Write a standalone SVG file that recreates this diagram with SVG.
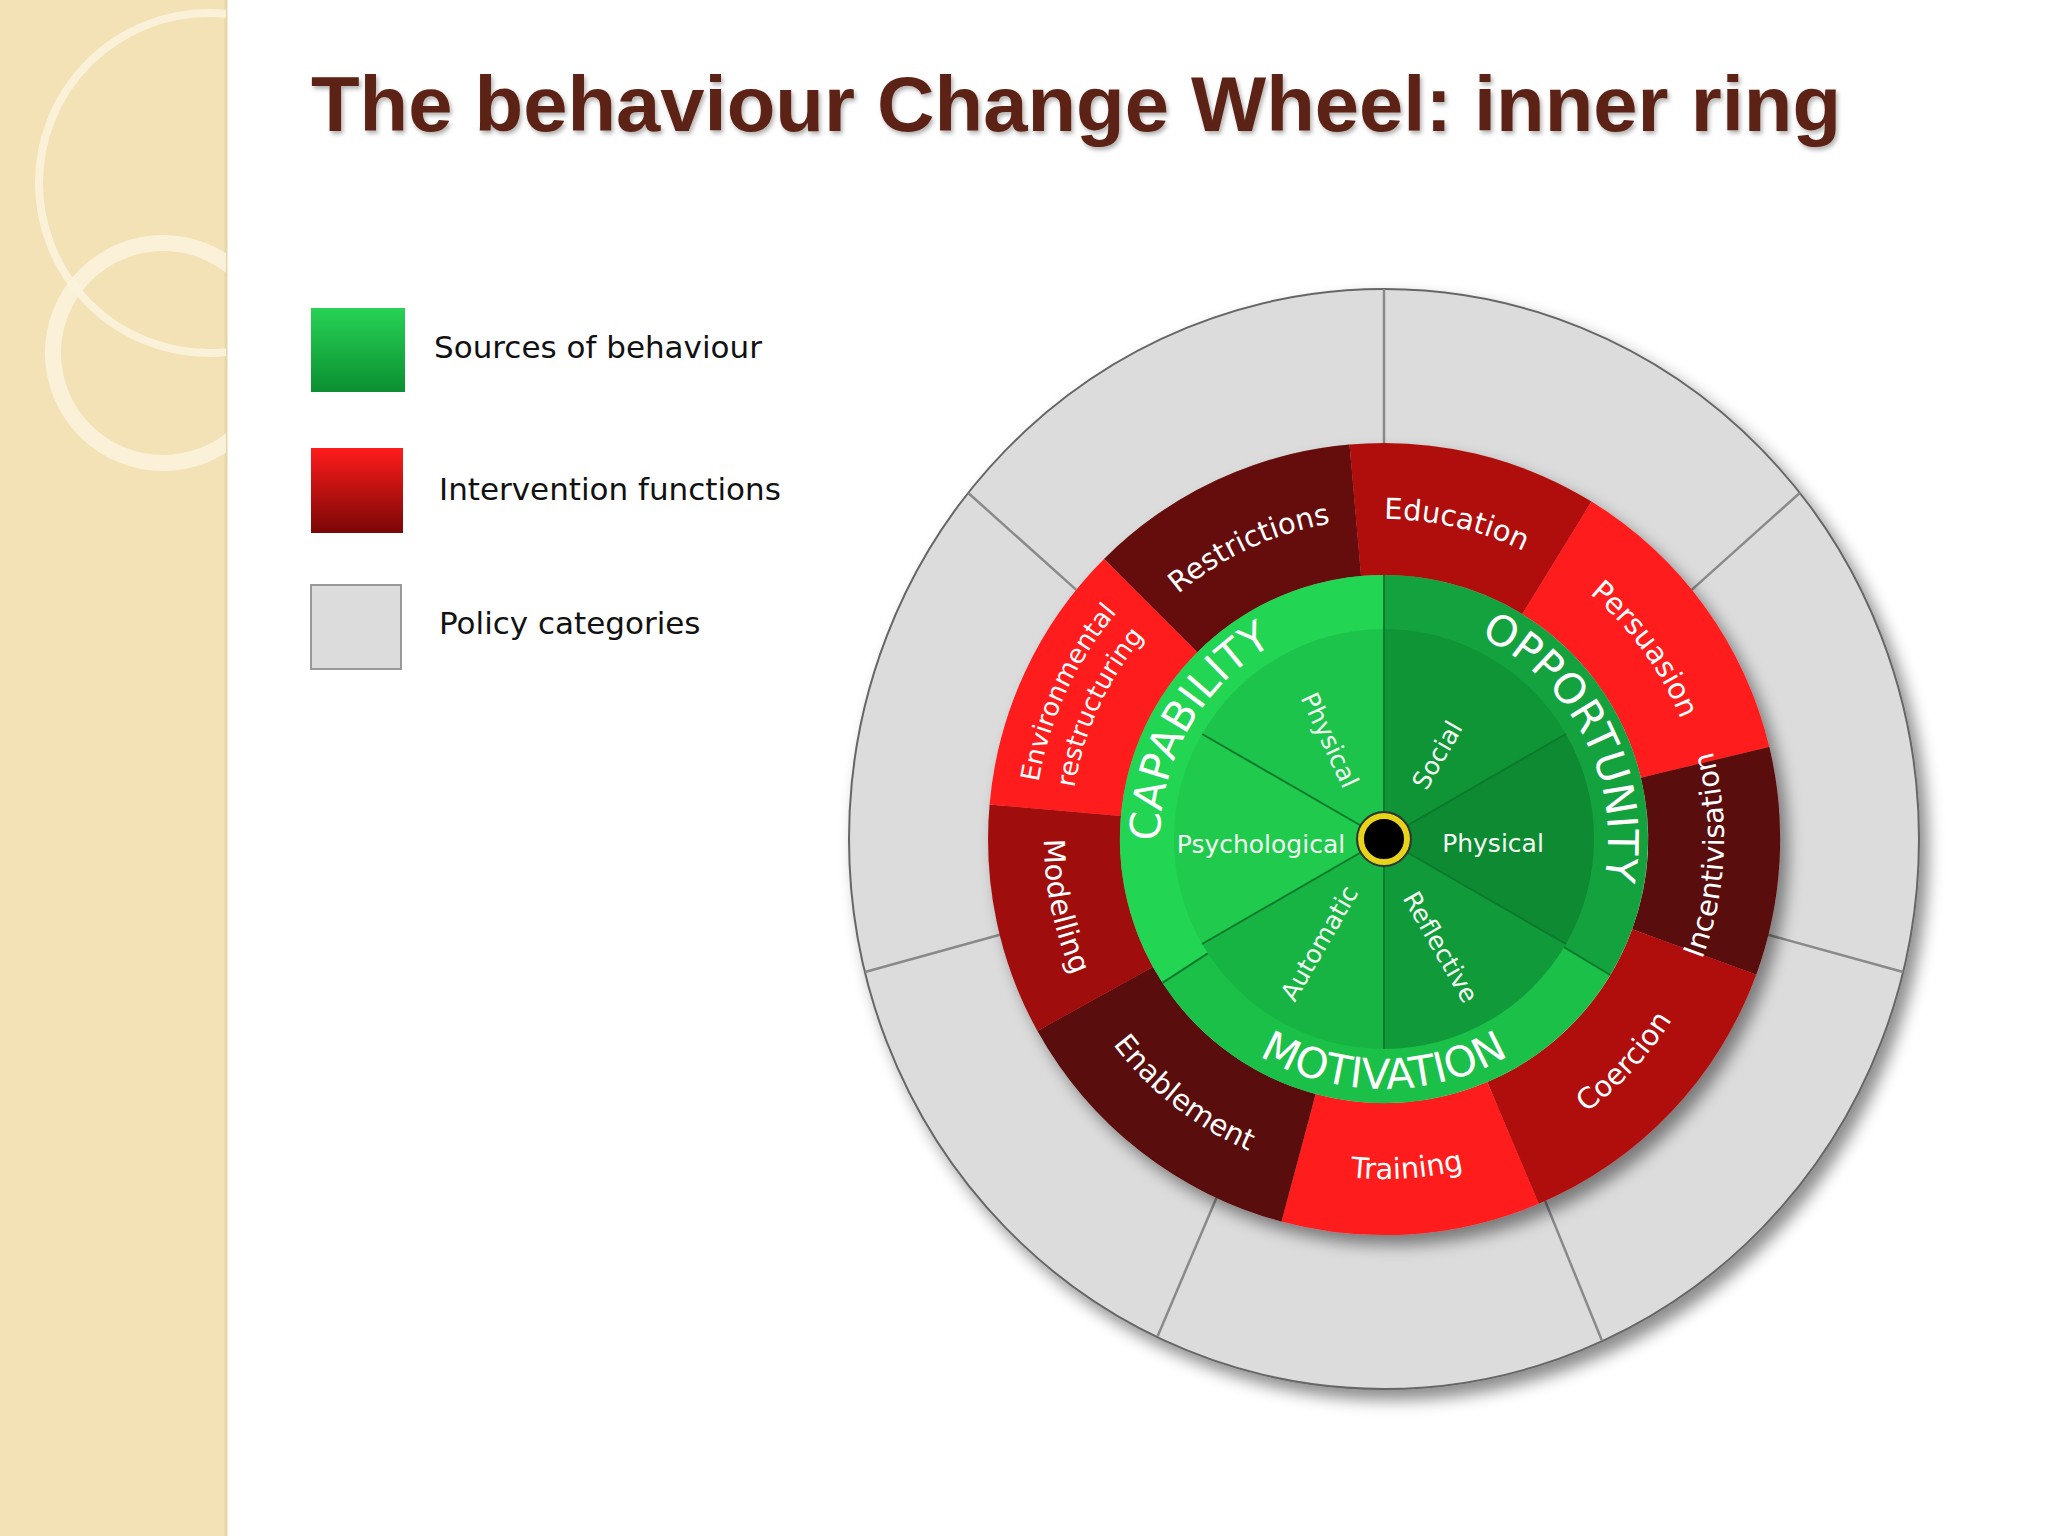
<svg xmlns="http://www.w3.org/2000/svg" width="2048" height="1536" viewBox="0 0 2048 1536">
<style>
.red{fill:#fff;font-family:"DejaVu Sans","Liberation Sans",sans-serif;font-size:29px}
.grn{fill:#fff;font-family:"DejaVu Sans","Liberation Sans",sans-serif;font-size:42px}
.sub{fill:#f2fff2;font-family:"DejaVu Sans","Liberation Sans",sans-serif;font-size:25px}
.leg{fill:#111;font-family:"DejaVu Sans","Liberation Sans",sans-serif;font-size:31px}
.div{stroke:#8a8a8a;stroke-width:2.5}
.gl{stroke:#0b7a2c;stroke-width:2}
</style>
<defs>
<filter id="sh" x="-20%" y="-20%" width="140%" height="140%"><feDropShadow dx="8" dy="10" stdDeviation="8" flood-color="#000" flood-opacity="0.45"/></filter>
<filter id="tsh"><feDropShadow dx="2" dy="3" stdDeviation="2" flood-color="#000" flood-opacity="0.3"/></filter>
<clipPath id="sb"><rect width="226" height="1536"/></clipPath>
<linearGradient id="lg" x1="0" y1="0" x2="0" y2="1"><stop offset="0" stop-color="#27d255"/><stop offset="1" stop-color="#0c8f32"/></linearGradient>
<linearGradient id="lr" x1="0" y1="0" x2="0" y2="1"><stop offset="0" stop-color="#ff1c1c"/><stop offset="1" stop-color="#7a0606"/></linearGradient>
<path id="cw320" d="M1384,519 A320,320 0 1 1 1384,1159 A320,320 0 1 1 1384,519"/>
<path id="cw350" d="M1384,489 A350,350 0 1 1 1384,1189 A350,350 0 1 1 1384,489"/>
<path id="cw314" d="M1384,525 A314,314 0 1 1 1384,1153 A314,314 0 1 1 1384,525"/>
<path id="ccw340" d="M1384,499 A340,340 0 1 0 1384,1179 A340,340 0 1 0 1384,499"/>
<path id="cw224" d="M1384,615 A224,224 0 1 1 1384,1063 A224,224 0 1 1 1384,615"/>
<path id="ccw250" d="M1384,589 A250,250 0 1 0 1384,1089 A250,250 0 1 0 1384,589"/>
</defs>
<rect width="2048" height="1536" fill="#fff"/>
<g id="sidebar">
<rect width="226" height="1536" fill="#f2e2b6"/>
<line x1="226" y1="0" x2="226" y2="1536" stroke="#e6d6a8" stroke-width="3"/>
<g clip-path="url(#sb)">
<circle cx="209" cy="183" r="170" fill="none" stroke="#fbf3dc" stroke-width="8" opacity="0.9"/>
<circle cx="163" cy="353" r="110" fill="none" stroke="#fbf3dc" stroke-width="16" opacity="0.9"/>
</g>
</g>
<text x="311" y="131" textLength="1530" lengthAdjust="spacingAndGlyphs" filter="url(#tsh)" style="font-family:'Liberation Sans',Arial,sans-serif;font-weight:bold;font-size:78px;fill:#5c2314">The behaviour Change Wheel: inner ring</text>
<g id="legend">
<rect x="311" y="308" width="94" height="84" fill="url(#lg)"/>
<text class="leg" x="434" y="358">Sources of behaviour</text>
<rect x="311" y="448" width="92" height="85" fill="url(#lr)"/>
<text class="leg" x="439" y="500">Intervention functions</text>
<rect x="311" y="585" width="90" height="84" fill="#dcdcdc" stroke="#999" stroke-width="2"/>
<text class="leg" x="439" y="634">Policy categories</text>
</g>
<g id="policy-ring">
<ellipse cx="1384" cy="839" rx="535" ry="550" fill="#dcdcdc" stroke="#666" stroke-width="2" filter="url(#sh)"/>
</g>
<g id="connectors">
<line class="div" x1="1384" y1="443" x2="1384" y2="289"/>
<line class="div" x1="1691.7" y1="589.9" x2="1799.7" y2="493"/>
<line class="div" x1="1768.1" y1="934.8" x2="1903.1" y2="972"/>
<line class="div" x1="1545.1" y1="1200.9" x2="1601.7" y2="1340"/>
<line class="div" x1="1216.5" y1="1197.8" x2="1157.7" y2="1336"/>
<line class="div" x1="999.9" y1="934.8" x2="865" y2="972"/>
<line class="div" x1="1076.3" y1="589.9" x2="968.3" y2="493"/>
</g>
<g id="red-ring" filter="url(#sh)">
<path id="restrictions" d="M1104,559 A396,396 0 0 1 1349.5,444.5 L1361,576 A264,264 0 0 0 1197.3,652.3Z" fill="#650808"/>
<path id="education" d="M1349.5,444.5 A396,396 0 0 1 1591.5,501.6 L1522.3,614.1 A264,264 0 0 0 1361,576Z" fill="#b00c0c"/>
<path id="persuasion" d="M1591.5,501.6 A396,396 0 0 1 1769.3,747.1 L1640.9,777.8 A264,264 0 0 0 1522.3,614.1Z" fill="#ff1a1a"/>
<path id="incentivisation" d="M1769.3,747.1 A396,396 0 0 1 1756.2,974.4 L1632.2,929.3 A264,264 0 0 0 1640.9,777.8Z" fill="#5a0707"/>
<path id="coercion" d="M1756.2,974.4 A396,396 0 0 1 1538.8,1203.7 L1487.2,1082.1 A264,264 0 0 0 1632.2,929.3Z" fill="#b00f0f"/>
<path id="training" d="M1538.8,1203.7 A396,396 0 0 1 1281.4,1221.5 L1315.6,1094 A264,264 0 0 0 1487.2,1082.1Z" fill="#ff1a1a"/>
<path id="enablement" d="M1281.4,1221.5 A396,396 0 0 1 1037.5,1031.1 L1153,967 A264,264 0 0 0 1315.6,1094Z" fill="#5a0707"/>
<path id="modelling" d="M1037.5,1031.1 A396,396 0 0 1 989.6,804.5 L1121,816 A264,264 0 0 0 1153,967Z" fill="#a00b0b"/>
<path id="environmental" d="M989.6,804.5 A396,396 0 0 1 1104,559 L1197.3,652.3 A264,264 0 0 0 1121,816Z" fill="#ff1a1a"/>
</g>
<g id="red-labels">
<text class="red"><textPath href="#cw320" startOffset="93.1%" text-anchor="middle">Restrictions</textPath></text>
<text class="red"><textPath href="#cw320" startOffset="3.6%" text-anchor="middle">Education</textPath></text>
<text class="red"><textPath href="#cw320" startOffset="15%" text-anchor="middle">Persuasion</textPath></text>
<text class="red" style="font-size:26px"><textPath href="#cw350" startOffset="81.9%" text-anchor="middle">Environmental</textPath></text>
<text class="red" style="font-size:26px"><textPath href="#cw314" startOffset="81.9%" text-anchor="middle">restructuring</textPath></text>
<text class="red"><textPath href="#ccw340" startOffset="74.2%" text-anchor="middle">Incentivisation</textPath></text>
<text class="red"><textPath href="#ccw340" startOffset="63.1%" text-anchor="middle">Coercion</textPath></text>
<text class="red"><textPath href="#ccw340" startOffset="51.1%" text-anchor="middle">Training</textPath></text>
<text class="red"><textPath href="#ccw340" startOffset="39.4%" text-anchor="middle">Enablement</textPath></text>
<text class="red"><textPath href="#ccw340" startOffset="28.3%" text-anchor="middle">Modelling</textPath></text>
</g>
<g id="green-core">
<path d="M1384,839 L1384,575 A264,264 0 0 1 1610.3,975Z" fill="#14a23e"/>
<path d="M1384,839 L1610.3,975 A264,264 0 0 1 1162.5,982.9Z" fill="#1bc048"/>
<path d="M1384,839 L1162.5,982.9 A264,264 0 0 1 1384,575Z" fill="#22d552"/>
<path d="M1384,839 L1384,629 A210,210 0 0 1 1565.9,734Z" fill="#0f9436"/>
<path d="M1384,839 L1565.9,734 A210,210 0 0 1 1565.9,944Z" fill="#0e8a33"/>
<path d="M1384,839 L1565.9,944 A210,210 0 0 1 1384,1049Z" fill="#109a39"/>
<path d="M1384,839 L1384,1049 A210,210 0 0 1 1202.1,944Z" fill="#18b443"/>
<path d="M1384,839 L1202.1,944 A210,210 0 0 1 1202.1,734Z" fill="#1fca4d"/>
<path d="M1384,839 L1202.1,734 A210,210 0 0 1 1384,629Z" fill="#1dc44b"/>
<g class="gl">
<line x1="1384" y1="839" x2="1384" y2="575"/>
<line x1="1384" y1="839" x2="1565.9" y2="734"/>
<line x1="1384" y1="839" x2="1565.9" y2="944"/>
<line x1="1384" y1="839" x2="1384" y2="1049"/>
<line x1="1384" y1="839" x2="1202.1" y2="944"/>
<line x1="1384" y1="839" x2="1202.1" y2="734"/>
<line x1="1564" y1="947.2" x2="1610.3" y2="975"/>
<line x1="1207.8" y1="953.4" x2="1162.5" y2="982.9"/>
</g>
<circle cx="1384" cy="839" r="23" fill="#000" stroke="#e8d21a" stroke-width="6"/>
<circle cx="1384" cy="839" r="27" fill="none" stroke="#333" stroke-width="2"/>
</g>
<g id="green-labels">
<text class="grn"><textPath href="#cw224" startOffset="83.3%" text-anchor="middle">CAPABILITY</textPath></text>
<text class="grn"><textPath href="#cw224" startOffset="17.5%" text-anchor="middle">OPPORTUNITY</textPath></text>
<text class="grn"><textPath href="#ccw250" startOffset="50%" text-anchor="middle">MOTIVATION</textPath></text>
<text class="sub" x="1261" y="853" text-anchor="middle">Psychological</text>
<text class="sub" x="1493" y="852" text-anchor="middle">Physical</text>
<text class="sub" text-anchor="middle" transform="translate(1330,740) rotate(65)" y="9">Physical</text>
<text class="sub" text-anchor="middle" transform="translate(1437,755) rotate(-60)" y="9">Social</text>
<text class="sub" text-anchor="middle" transform="translate(1319,943) rotate(-60)" y="9">Automatic</text>
<text class="sub" text-anchor="middle" transform="translate(1441,947) rotate(60)" y="9">Reflective</text>
</g>
</svg>
